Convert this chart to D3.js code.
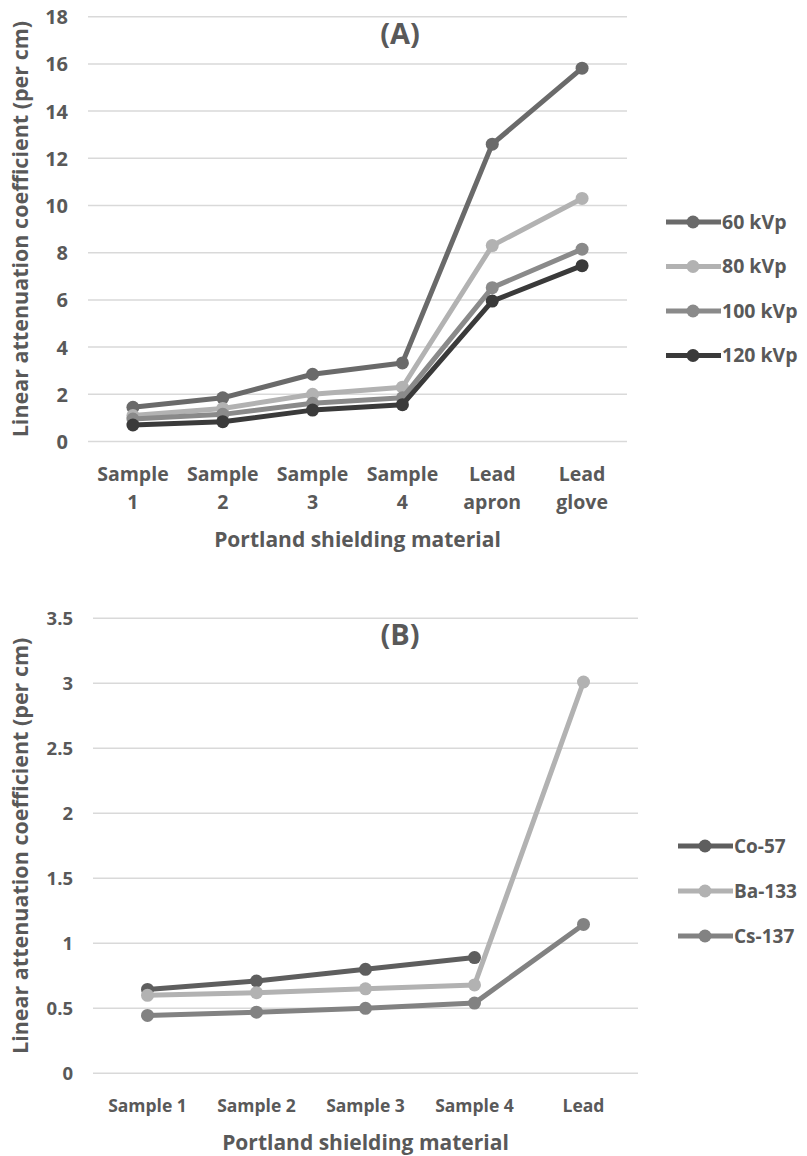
<!DOCTYPE html>
<html>
<head>
<meta charset="utf-8">
<script src="https://cdn.jsdelivr.net/npm/d3@7"></script>
<style>
  body { margin: 0; background: #fff; }
  svg text { font-family: "Open Sans", sans-serif; font-weight: bold; fill: #595959; }
</style>
</head>
<body>
<script>
// chart A data
var catsA = [['Sample', '1'], ['Sample', '2'], ['Sample', '3'], ['Sample', '4'], ['Lead', 'apron'], ['Lead', 'glove']];
var seriesA = ['60 kVp', '80 kVp', '100 kVp', '120 kVp'];
var kvp60  = [1.45, 1.85, 2.85, 3.33, 12.6, 15.82];
var kvp80  = [1.1, 1.4, 2.0, 2.3, 8.3, 10.3];
var kvp100 = [0.95, 1.15, 1.62, 1.85, 6.52, 8.15];
var kvp120 = [0.7, 0.84, 1.33, 1.56, 5.95, 7.45];
var ticksA = [0, 2, 4, 6, 8, 10, 12, 14, 16, 18];

// chart B data
var catsB = ['Sample 1', 'Sample 2', 'Sample 3', 'Sample 4', 'Lead'];
var seriesB = ['Co-57', 'Ba-133', 'Cs-137'];
var co57  = [0.645, 0.71, 0.8, 0.89, null];
var ba133 = [0.6, 0.62, 0.65, 0.68, 3.01];
var cs137 = [0.445, 0.47, 0.5, 0.54, 1.145];
var ticksB = [0, 0.5, 1, 1.5, 2, 2.5, 3, 3.5];

var svg = d3.select('body')
    .append('svg')
    .attr('width', 807)
    .attr('height', 1156);

/**
 * draw one line chart panel
 */
function drawPanel(opt) {
    var g = svg.append('g');
    var x = d3.scaleBand().domain(d3.range(opt.cats.length)).range([opt.left, opt.right]);
    var y = d3.scaleLinear().domain([0, opt.max]).range([opt.bottom, opt.top]);

    // gridlines
    g.append('g')
        .selectAll('line')
        .data(opt.ticks)
        .join('line')
        .attr('x1', opt.left)
        .attr('x2', opt.right)
        .attr('y1', d => y(d))
        .attr('y2', d => y(d))
        .attr('stroke', '#d9d9d9')
        .attr('stroke-width', 1.5);

    // y axis labels
    var yAxis = d3.axisLeft(y).tickValues(opt.ticks).tickFormat(d => String(d)).tickSize(0).tickPadding(0);
    var ya = g.append('g')
        .attr('transform', 'translate(' + (opt.left - 20) + ',0)')
        .call(yAxis);
    ya.select('.domain').remove();
    ya.selectAll('text')
        .attr('font-size', opt.tickSize)
        .attr('dy', '0.35em')
        .attr('fill', '#595959');

    // x labels
    var xl = g.append('g');
    opt.cats.forEach(function (c, i) {
        var lines = Array.isArray(c) ? c : [c];
        var t = xl.append('text')
            .attr('x', x(i) + x.bandwidth() / 2)
            .attr('y', opt.bottom + 39)
            .attr('text-anchor', 'middle')
            .attr('font-size', opt.catSize);
        lines.forEach(function (l, k) {
            t.append('tspan')
                .attr('x', x(i) + x.bandwidth() / 2)
                .attr('dy', k === 0 ? 0 : 28)
                .text(l);
        });
    });

    // titles
    g.append('text')
        .attr('x', (opt.left + opt.right) / 2)
        .attr('y', opt.xTitleY)
        .attr('text-anchor', 'middle')
        .attr('font-size', 21)
        .text('Portland shielding material');
    g.append('text')
        .attr('transform', 'translate(28,' + (opt.top + opt.bottom) / 2 + ') rotate(-90)')
        .attr('text-anchor', 'middle')
        .attr('font-size', 21.5)
        .text('Linear attenuation coefficient (per cm)');
    g.append('text')
        .attr('x', 400)
        .attr('y', opt.titleY)
        .attr('text-anchor', 'middle')
        .attr('font-size', 29)
        .text(opt.title);

    // lines + points
    var line = d3.line()
        .defined(d => d != null)
        .x((d, i) => x(i) + x.bandwidth() / 2)
        .y(d => y(d));
    opt.series.forEach(function (s, si) {
        var vals = opt.values[si];
        g.append('path')
            .attr('d', line(vals))
            .attr('fill', 'none')
            .attr('stroke', opt.colors[si])
            .attr('stroke-width', 5)
            .attr('stroke-linejoin', 'round');
        g.append('g')
            .selectAll('circle')
            .data(vals.map((v, i) => [v, i]).filter(d => d[0] != null))
            .join('circle')
            .attr('cx', d => x(d[1]) + x.bandwidth() / 2)
            .attr('cy', d => y(d[0]))
            .attr('r', 6.5)
            .attr('fill', opt.colors[si]);
    });

    // legend
    opt.series.forEach(function (s, si) {
        var ly = opt.legendY + si * opt.legendStep;
        g.append('line')
            .attr('x1', opt.legendX)
            .attr('x2', opt.legendX + 55)
            .attr('y1', ly)
            .attr('y2', ly)
            .attr('stroke', opt.colors[si])
            .attr('stroke-width', 5);
        g.append('circle')
            .attr('cx', opt.legendX + 27)
            .attr('cy', ly)
            .attr('r', 6.5)
            .attr('fill', opt.colors[si]);
        g.append('text')
            .attr('x', opt.legendX + 56)
            .attr('y', ly)
            .attr('dy', '0.35em')
            .attr('font-size', opt.legendSize)
            .text(s);
    });
}

drawPanel({
    cats: catsA, series: seriesA, values: [kvp60, kvp80, kvp100, kvp120],
    colors: ['#6a6a6a', '#b2b2b2', '#8a8a8a', '#3a3a3a'],
    ticks: ticksA, max: 18,
    left: 88, right: 627, top: 16.7, bottom: 441.5,
    tickSize: 20, catSize: 19.5, legendSize: 19.5,
    xTitleY: 547, title: '(A)', titleY: 44,
    legendX: 666, legendY: 222, legendStep: 44.5
});

drawPanel({
    cats: catsB, series: seriesB, values: [co57, ba133, cs137],
    colors: ['#5e5e5e', '#b2b2b2', '#828282'],
    ticks: ticksB, max: 3.5,
    left: 93, right: 638, top: 618.3, bottom: 1073.3,
    tickSize: 18.5, catSize: 17.5, legendSize: 19,
    xTitleY: 1150, title: '(B)', titleY: 645,
    legendX: 678, legendY: 846, legendStep: 45
});
</script>
</body>
</html>
